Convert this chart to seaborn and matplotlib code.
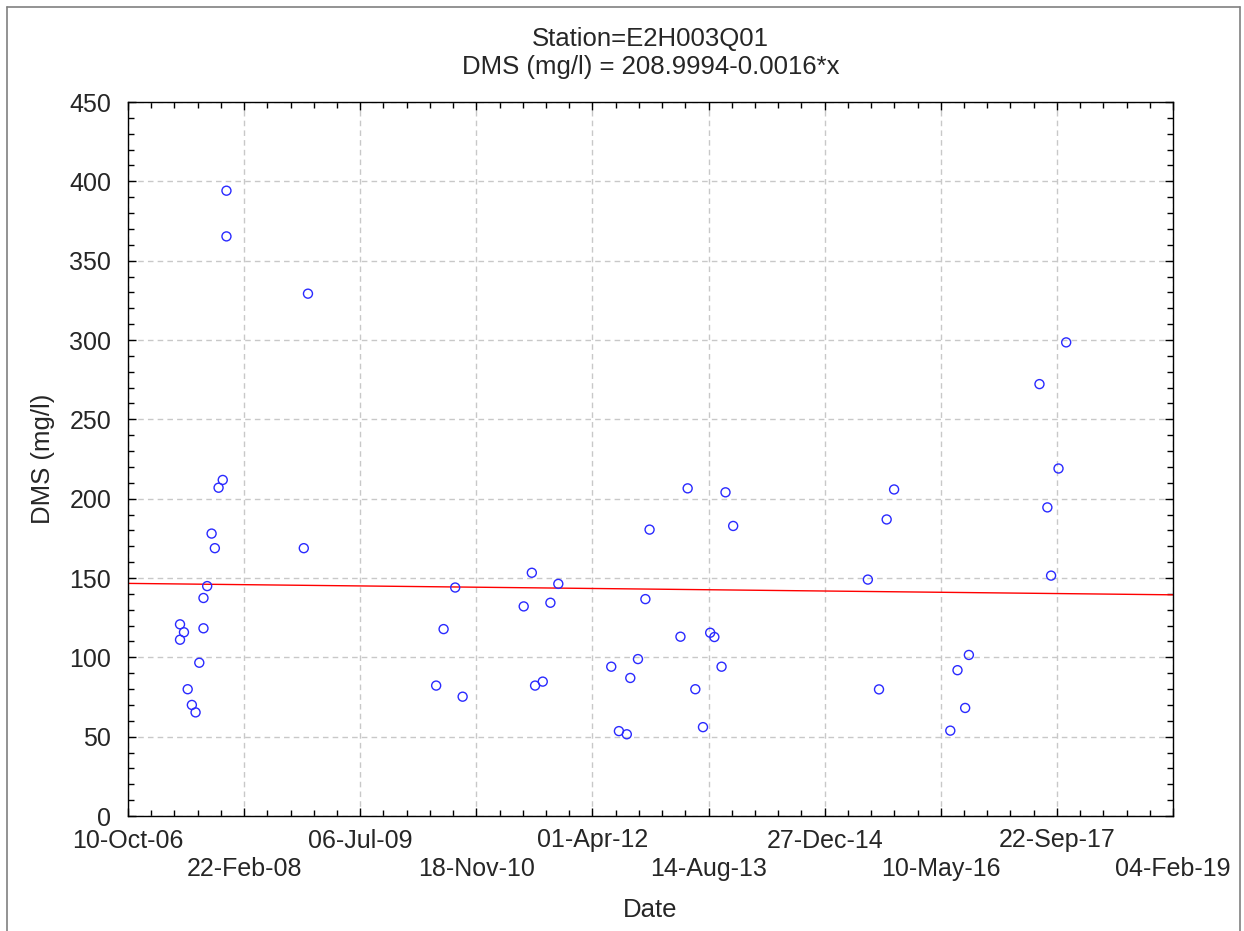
import numpy as np
import pandas as pd
import matplotlib
matplotlib.use("Agg")
import matplotlib.pyplot as plt
from matplotlib.ticker import MultipleLocator
from matplotlib.lines import Line2D
import seaborn as sns

# ---- data (x = date serial number, day 39000 = 10-Oct-06) ----
date_serial = [39224, 39224, 39241, 39257, 39275, 39291, 39307, 39325, 39325, 39341,
               39360, 39374, 39390, 39408, 39424, 39424, 39757, 39775,
               40327, 40359, 40409, 40441, 40704, 40739, 40753, 40786, 40819, 40853,
               41081, 41114, 41148, 41163, 41196, 41228, 41246, 41379, 41410, 41443,
               41476, 41507, 41525, 41556, 41573, 41606,
               42186, 42234, 42267, 42299, 42541, 42572, 42605, 42621,
               42925, 42959, 42975, 43007, 43040]
dms = [120.8, 111.1, 115.8, 79.9, 70.0, 65.3, 96.6, 137.4, 118.3, 144.9,
       178.0, 168.8, 206.9, 211.8, 394.1, 365.3, 168.8, 329.2,
       82.2, 117.8, 144.0, 75.2, 132.1, 153.3, 82.2, 84.7, 134.4, 146.3,
       94.1, 53.5, 51.5, 87.0, 98.9, 136.7, 180.5, 113.0, 206.5, 79.9,
       56.0, 115.5, 112.8, 94.1, 204.0, 182.8,
       149.0, 79.8, 186.9, 205.8, 53.8, 91.9, 68.1, 101.5,
       272.2, 194.5, 151.5, 219.0, 298.5]

intercept = 208.9994
slope = -0.0016

x_ticks = [39000, 39500, 40000, 40500, 41000, 41500, 42000, 42500, 43000, 43500]
x_tick_labels = ["10-Oct-06", "22-Feb-08", "06-Jul-09", "18-Nov-10", "01-Apr-12",
                 "14-Aug-13", "27-Dec-14", "10-May-16", "22-Sep-17", "04-Feb-19"]
y_ticks = [0, 50, 100, 150, 200, 250, 300, 350, 400, 450]

title_lines = ["Station=E2H003Q01", "DMS (mg/l) = 208.9994-0.0016*x"]

# ---- style ----
sns.set_style("ticks")
plt.rcParams['font.family'] = ['Liberation Sans', 'DejaVu Sans']

fig = plt.figure(figsize=(12.44, 9.31), dpi=100)
ax = fig.add_axes([128/1244, 1 - 816/931, (1173-128)/1244, (816-102)/931])

df = pd.DataFrame({"Date": date_serial, "DMS": dms})
sns.scatterplot(data=df, x="Date", y="DMS", ax=ax, marker="o",
                facecolor="none", edgecolor="#2a2aff", linewidth=1.0, s=42, zorder=3)

line_x = np.array([x_ticks[0], x_ticks[-1]])
line_df = pd.DataFrame({"Date": line_x, "DMS": intercept + slope * line_x})
sns.lineplot(data=line_df, x="Date", y="DMS", ax=ax, color="#ff0000", linewidth=1.0, zorder=2)

ax.set_xlim(x_ticks[0], x_ticks[-1])
ax.set_ylim(y_ticks[0], y_ticks[-1])
ax.set_xticks(x_ticks)
ax.set_xticklabels([lab if i % 2 == 0 else "\n" + lab for i, lab in enumerate(x_tick_labels)],
                   linespacing=1.25)
ax.set_yticks(y_ticks)
ax.xaxis.set_minor_locator(MultipleLocator(100))
ax.yaxis.set_minor_locator(MultipleLocator(10))
ax.tick_params(which="both", direction="in", top=True, right=True, labelsize=18, color="black")
ax.tick_params(which="major", length=6, width=1)
ax.tick_params(which="minor", length=4, width=1)
ax.tick_params(axis="x", which="major", pad=9)
ax.tick_params(axis="y", which="major", pad=12)

ax.grid(True, which="major", linestyle=(0, (4, 3)), color="#c8c8c8", linewidth=1.0)
ax.set_axisbelow(True)
for sp in ax.spines.values():
    sp.set_visible(True)
    sp.set_color("black")
    sp.set_linewidth(1.0)

ax.set_xlabel("Date", fontsize=18.5, labelpad=12)
ax.set_ylabel("DMS (mg/l)", fontsize=18.5, labelpad=10)
ax.set_title("\n".join(title_lines), fontsize=18.5, pad=20, linespacing=1.2)

# outer frame
for xs, ys in [([7/1244, 1240/1244], [1-7/931, 1-7/931]),
               ([7/1244, 7/1244], [0, 1-7/931]),
               ([1240/1244, 1240/1244], [0, 1-7/931])]:
    fig.add_artist(Line2D(xs, ys, color="#808080", linewidth=1.2))

fig.savefig("out.png", dpi=100)
